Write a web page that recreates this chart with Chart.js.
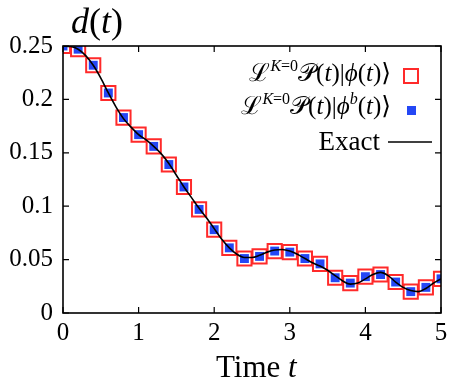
<!DOCTYPE html>
<html>
<head>
<meta charset="utf-8">
<script src="https://cdn.jsdelivr.net/npm/chart.js@4/dist/chart.umd.min.js"></script>
<style>
  html, body { margin: 0; background: #fff; }
  #wrap { width: 453px; height: 388px; }
</style>
</head>
<body>
<div id="wrap"><canvas id="myChart"></canvas></div>
<script>
// sampled times for the squares
const markerT = [0, 0.2, 0.4, 0.6, 0.8, 1.0, 1.2, 1.4, 1.6, 1.8, 2.0, 2.2, 2.4,
  2.6, 2.8, 3.0, 3.2, 3.4, 3.6, 3.8, 4.0, 4.2, 4.4, 4.6, 4.8, 5.0];
// L^{K=0} P(t)|phi(t)>  (red open squares)
const dPhi = [0.250, 0.247, 0.232, 0.206, 0.183, 0.167, 0.156, 0.139, 0.118, 0.097,
  0.078, 0.061, 0.051, 0.053, 0.058, 0.057, 0.051, 0.046, 0.033, 0.028,
  0.034, 0.036, 0.029, 0.020, 0.024, 0.032];
// L^{K=0} P(t)|phi^b(t)>  (blue filled squares)
const dPhiB = [0.250, 0.247, 0.232, 0.206, 0.183, 0.167, 0.156, 0.139, 0.118, 0.097,
  0.078, 0.061, 0.051, 0.053, 0.058, 0.057, 0.051, 0.046, 0.033, 0.028,
  0.034, 0.036, 0.029, 0.020, 0.024, 0.032];
// exact curve
const exactT = [0, 0.1, 0.2, 0.3, 0.4, 0.5, 0.6, 0.7, 0.8, 0.9, 1.0, 1.1, 1.2, 1.3,
  1.4, 1.5, 1.6, 1.7, 1.8, 1.9, 2.0, 2.1, 2.2, 2.3, 2.4, 2.5, 2.6, 2.7, 2.8, 2.9,
  3.0, 3.1, 3.2, 3.3, 3.4, 3.5, 3.6, 3.7, 3.8, 3.9, 4.0, 4.1, 4.2, 4.3, 4.4, 4.5,
  4.6, 4.7, 4.8, 4.9, 5.0];
const exactD = [0.250, 0.2495, 0.247, 0.241, 0.232, 0.220, 0.206, 0.193, 0.182, 0.174,
  0.167, 0.162, 0.156, 0.149, 0.140, 0.129, 0.118, 0.108, 0.098, 0.089,
  0.079, 0.069, 0.061, 0.055, 0.052, 0.052, 0.054, 0.057, 0.059, 0.0595,
  0.058, 0.055, 0.051, 0.047, 0.044, 0.040, 0.035, 0.030, 0.027, 0.028,
  0.032, 0.036, 0.038, 0.035, 0.029, 0.024, 0.021, 0.020, 0.023, 0.028, 0.032];

const xTicks = [0, 1, 2, 3, 4, 5];
const yTicks = [0, 0.05, 0.1, 0.15, 0.2, 0.25];

const SERIF = '"Liberation Serif", "Times New Roman", "DejaVu Serif", serif';
const RED = '#ff2a2a';
const BLUE = '#2447f5';

// legend rows: pieces of text [text, size, italic, raise]
const legendRows = [
  [['ℒ', 25, false, 0], ['K', 16, true, 10], ['=0', 16, false, 10], ['𝒫', 25, false, 0],
   ['(', 25, false, 0], ['t', 25, true, 0], [')|', 25, false, 0], ['ϕ', 25, true, 0],
   ['(', 25, false, 0], ['t', 25, true, 0], [')⟩', 25, false, 0]],
  [['ℒ', 25, false, 0], ['K', 16, true, 10], ['=0', 16, false, 10], ['𝒫', 25, false, 0],
   ['(', 25, false, 0], ['t', 25, true, 0], [')|', 25, false, 0], ['ϕ', 25, true, 0],
   ['b', 16, true, 10], ['(', 25, false, 0], ['t', 25, true, 0], [')⟩', 25, false, 0]],
  [['Exact', 27, false, 0]]
];

function fontOf(size, italic) {
  return (italic ? 'italic ' : '') + size + 'px ' + SERIF;
}

function drawPieces(ctx, pieces, x, y, align) {
  let w = 0;
  pieces.forEach(p => { ctx.font = fontOf(p[1], p[2]); w += ctx.measureText(p[0]).width; });
  let cx = align === 'right' ? x - w : x;
  pieces.forEach(p => {
    ctx.font = fontOf(p[1], p[2]);
    ctx.fillText(p[0], cx, y - p[3]);
    cx += ctx.measureText(p[0]).width;
  });
}

const framePlugin = {
  id: 'frame',
  afterDatasetsDraw(chart) {
    const ctx = chart.ctx, a = chart.chartArea;
    const xs = chart.scales.x, ys = chart.scales.y;
    ctx.save();
    ctx.strokeStyle = '#000';
    ctx.lineWidth = 1.6;
    ctx.strokeRect(a.left, a.top, a.right - a.left, a.bottom - a.top);
    ctx.lineWidth = 1.2;
    ctx.beginPath();
    xTicks.forEach(v => {
      const px = xs.getPixelForValue(v);
      ctx.moveTo(px, a.bottom); ctx.lineTo(px, a.bottom - 6);
      ctx.moveTo(px, a.top); ctx.lineTo(px, a.top + 6);
    });
    yTicks.forEach(v => {
      const py = ys.getPixelForValue(v);
      ctx.moveTo(a.left, py); ctx.lineTo(a.left + 6, py);
      ctx.moveTo(a.right, py); ctx.lineTo(a.right - 6, py);
    });
    ctx.stroke();

    // titles
    ctx.fillStyle = '#000';
    ctx.textBaseline = 'alphabetic';
    drawPieces(ctx, [['d', 36, true, 0], ['(', 36, false, 0], ['t', 36, true, 0], [')', 36, false, 0]], 71, 33, 'left');
    drawPieces(ctx, [['Time ', 31, false, 0], ['t', 31, true, 0]], 216, 377, 'left');

    // legend
    const rowRight = [391, 391, 380];
    const rowY = [81, 114, 150];
    legendRows.forEach((row, i) => drawPieces(ctx, row, rowRight[i], rowY[i], 'right'));
    ctx.lineWidth = 2;
    ctx.strokeStyle = RED;
    ctx.fillStyle = '#fff';
    ctx.fillRect(404, 69, 14, 14);
    ctx.strokeRect(404, 69, 14, 14);
    ctx.fillStyle = BLUE;
    ctx.fillRect(407, 106, 9, 9);
    ctx.strokeStyle = '#000';
    ctx.lineWidth = 1.5;
    ctx.beginPath();
    ctx.moveTo(388, 142); ctx.lineTo(432, 142);
    ctx.stroke();
    ctx.restore();
  }
};

const ctx = document.getElementById('myChart').getContext('2d');
const chart = new Chart(ctx, {
  type: 'scatter',
  data: {
    datasets: [
      {
        label: 'Exact',
        type: 'line',
        data: exactT.map((t, i) => ({ x: t, y: exactD[i] })),
        borderColor: '#000',
        borderWidth: 1.6,
        pointRadius: 0,
        cubicInterpolationMode: 'monotone',
        order: 0
      },
      {
        label: 'phi^b',
        data: markerT.map((t, i) => ({ x: t, y: dPhiB[i] })),
        pointStyle: 'rect',
        pointRadius: 6.3,
        pointBorderWidth: 0,
        backgroundColor: BLUE,
        borderColor: BLUE,
        order: 1
      },
      {
        label: 'phi',
        data: markerT.map((t, i) => ({ x: t, y: dPhi[i] })),
        pointStyle: 'rect',
        pointRadius: 10,
        pointBorderWidth: 2,
        backgroundColor: '#fff',
        borderColor: RED,
        order: 2
      }
    ]
  },
  options: {
    responsive: true,
    maintainAspectRatio: false,
    animation: false,
    layout: { padding: { top: 46, right: 9, left: 0, bottom: 0 } },
    plugins: {
      legend: { display: false },
      tooltip: { enabled: false }
    },
    scales: {
      x: {
        type: 'linear',
        min: 0, max: 5,
        afterBuildTicks: s => { s.ticks = xTicks.map(v => ({ value: v })); },
        afterFit: s => { s.height = 75; },
        grid: { display: false, drawTicks: false },
        border: { display: false },
        ticks: { font: { family: SERIF, size: 25 }, color: '#000', padding: 5, maxRotation: 0,
          callback: v => String(v) }
      },
      y: {
        type: 'linear',
        min: 0, max: 0.25,
        afterBuildTicks: s => { s.ticks = yTicks.map(v => ({ value: v })); },
        afterFit: s => { s.width = 63; },
        grid: { display: false, drawTicks: false },
        border: { display: false },
        ticks: { font: { family: SERIF, size: 25 }, color: '#000', padding: 10,
          callback: v => String(+v.toFixed(2)) }
      }
    }
  },
  plugins: [framePlugin]
});
</script>
</body>
</html>
